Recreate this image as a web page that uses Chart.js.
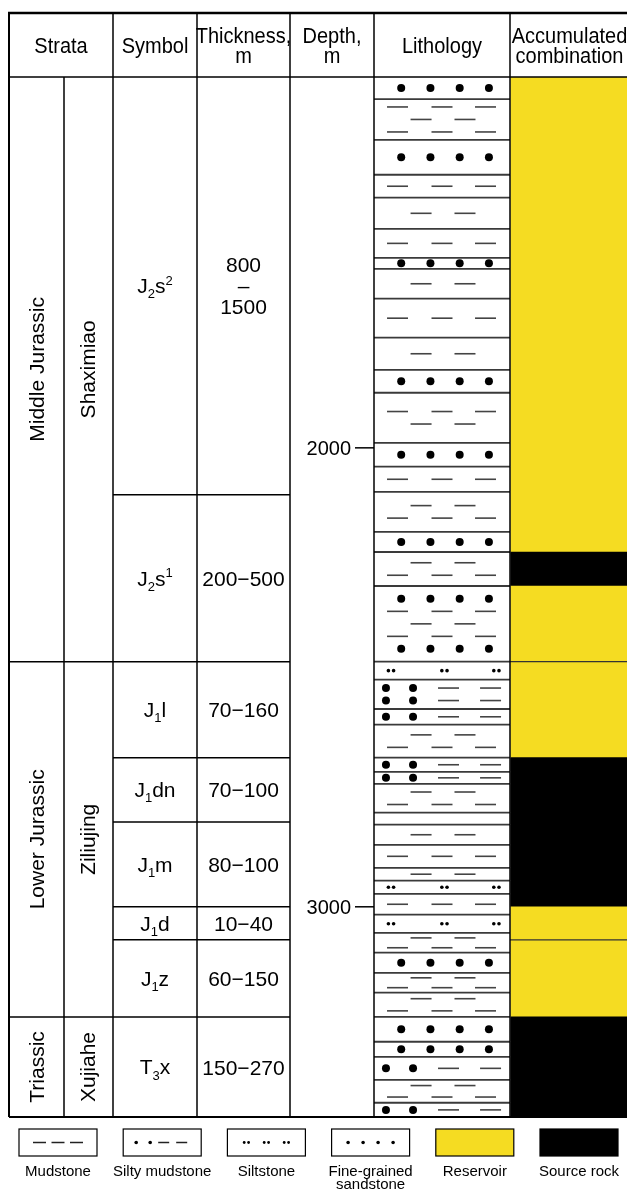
<!DOCTYPE html>
<html>
<head>
<meta charset="utf-8">
<script src="https://cdn.jsdelivr.net/npm/chart.js@4.4.1/dist/chart.umd.min.js"></script>
<style>
  html, body { margin: 0; padding: 0; background: #fff; }
  canvas { display: block; }
</style>
</head>
<body>
<canvas id="column" width="627" height="1191"></canvas>
<script>
// depth axis, m
const depthTop = 1192;
const depthBottom = 3458;
const depthTicks = [2000, 3000];

// strata
const eras = ['Middle Jurassic', 'Lower Jurassic', 'Triassic'];
const formations = ['Shaximiao', 'Ziliujing', 'Xujiahe'];
const formationTops = [1192, 2466, 3240];
const formationBottoms = [2466, 3240, 3458];

const members = ['J_2s^2', 'J_2s^1', 'J_1l', 'J_1dn', 'J_1m', 'J_1d', 'J_1z', 'T_3x'];
const memberThickness = ['800\n–\n1500', '200−500', '70−160', '70−100', '80−100', '10−40', '60−150', '150−270'];
const memberTops = [1192, 2102, 2466, 2675, 2815, 3000, 3072, 3240];
const memberBottoms = [2102, 2466, 2675, 2815, 3000, 3072, 3240, 3458];

// lithology layers, rows from top: D = fine-grained sandstone, 3/2 = mudstone,
// S = silty mudstone, T = siltstone
const lithTops = [1192, 1240, 1329, 1405, 1455, 1523, 1586, 1610, 1675, 1760,
  1830, 1880, 1989, 2041, 2096, 2183, 2227, 2301, 2466, 2505,
  2569, 2603, 2675, 2706, 2732, 2795, 2821, 2865, 2915, 2943,
  2972, 3017, 3057, 3100, 3144, 3187, 3240, 3294, 3327, 3377, 3427];
const lithRows = ['D', '323', 'D', '3', '2', '3', 'D', '2', '3', '2',
  'D', '32', 'D', '3', '23', 'D', '23', 'D323D', 'T', 'SS',
  'S', '23', 'S', 'S', '23', '', '2', '3', '2', 'T',
  '3', 'T', '23', 'D', '23', '23', 'D', 'D', 'S', '23', 'S'];
const lithBottoms = lithTops.map((t, i) => i < lithTops.length - 1 ? lithTops[i + 1] : depthBottom);

// accumulated combination
const accTops = [1192, 2227, 2301, 2466, 2675, 3000, 3072, 3240];
const accBottoms = [2227, 2301, 2466, 2675, 3000, 3072, 3240, 3458];
const accKinds = ['Reservoir', 'Source rock', 'Reservoir', 'Reservoir', 'Source rock', 'Reservoir', 'Reservoir', 'Source rock'];

const headers = ['Strata', 'Symbol', 'Thickness,\nm', 'Depth,\nm', 'Lithology', 'Accumulated\ncombination'];
const legendLabels = ['Mudstone', 'Silty mudstone', 'Siltstone', 'Fine-grained\nsandstone', 'Reservoir', 'Source rock'];

// layout (x units = px from the table's left edge)
const COL = { strata: 0, formation: 55, symbol: 104, thick: 188, depth: 281, lith: 365, acc: 501, end: 618 };
const FONT = '"Liberation Sans", Arial, sans-serif';
const YELLOW = '#f5dc22';
const kindColor = k => k === 'Reservoir' ? YELLOW : '#000';

function hline(ctx, x1, x2, y, color, w) {
  ctx.strokeStyle = color; ctx.lineWidth = w;
  ctx.beginPath(); ctx.moveTo(x1, y); ctx.lineTo(x2, y); ctx.stroke();
}
function vline(ctx, x, y1, y2, color, w) {
  ctx.strokeStyle = color; ctx.lineWidth = w;
  ctx.beginPath(); ctx.moveTo(x, y1); ctx.lineTo(x, y2); ctx.stroke();
}
function dot(ctx, x, y, r) {
  ctx.beginPath(); ctx.arc(x, y, r, 0, Math.PI * 2); ctx.fill();
}
function dash(ctx, cx, y, len) {
  hline(ctx, cx - len / 2, cx + len / 2, y, '#444', 1.6);
}

// one pattern row inside the lithology column
function drawRow(ctx, code, L, W, y) {
  ctx.fillStyle = '#000';
  if (code === 'D') {
    [0.2, 0.415, 0.63, 0.845].forEach(f => dot(ctx, L + W * f, y, 4));
  } else if (code === '3') {
    [0.173, 0.5, 0.82].forEach(f => dash(ctx, L + W * f, y, 21));
  } else if (code === '2') {
    [0.346, 0.669].forEach(f => dash(ctx, L + W * f, y, 21));
  } else if (code === 'S') {
    [0.088, 0.287].forEach(f => dot(ctx, L + W * f, y, 4));
    [0.548, 0.857].forEach(f => dash(ctx, L + W * f, y, 21));
  } else if (code === 'T') {
    [0.125, 0.518, 0.9].forEach(f => {
      dot(ctx, L + W * f - 2.6, y, 1.8);
      dot(ctx, L + W * f + 2.6, y, 1.8);
    });
  }
}

function richText(ctx, label, cx, baseY, size) {
  const parts = [];
  for (let i = 0; i < label.length; i++) {
    const c = label[i];
    if ((c === '_' || c === '^') && i + 1 < label.length) { parts.push({ t: label[i + 1], k: c }); i++; }
    else parts.push({ t: c, k: '' });
  }
  const small = Math.round(size * 0.62);
  const setFont = p => { ctx.font = `${p.k ? small : size}px ${FONT}`; };
  let total = 0;
  parts.forEach(p => { setFont(p); total += ctx.measureText(p.t).width; });
  let x = cx - total / 2;
  ctx.textAlign = 'left';
  ctx.textBaseline = 'alphabetic';
  parts.forEach(p => {
    setFont(p);
    const dy = p.k === '_' ? size * 0.24 : p.k === '^' ? -size * 0.4 : 0;
    ctx.fillText(p.t, x, baseY + dy);
    x += ctx.measureText(p.t).width;
  });
}

// centred multi-line text; stretchY > 1 makes the glyphs taller
function multiText(ctx, str, cx, cy, size, lineH, stretchY = 1) {
  const lines = str.split('\n');
  ctx.font = `${size}px ${FONT}`;
  ctx.textAlign = 'center';
  ctx.textBaseline = 'alphabetic';
  lines.forEach((ln, k) => {
    const by = cy + size * 0.36 * stretchY + (k - (lines.length - 1) / 2) * lineH;
    ctx.save();
    ctx.translate(cx, by);
    ctx.scale(1, stretchY);
    ctx.fillText(ln, 0, 0);
    ctx.restore();
  });
}

const tablePlugin = {
  id: 'stratTable',
  afterDatasetsDraw(chart) {
    const { ctx, chartArea: area } = chart;
    const xs = chart.scales.x, ys = chart.scales.y;
    const X = v => xs.getPixelForValue(v);
    const Y = v => ys.getPixelForValue(v);
    const headTop = 13;
    const bottom = Y(depthBottom);
    ctx.save();

    // lithology patterns and layer lines
    const L = X(COL.lith), W = X(COL.acc) - L;
    lithTops.forEach((t, i) => {
      const top = Y(t), bot = Y(lithBottoms[i]);
      const rows = lithRows[i];
      const n = rows.length;
      const gap = Math.min(12.5, (bot - top) / Math.max(n, 1));
      rows.split('').forEach((code, k) => {
        drawRow(ctx, code, L, W, (top + bot) / 2 + (k - (n - 1) / 2) * gap);
      });
      if (i > 0) hline(ctx, L, L + W, top, '#3a3a3a', 1.8);
    });

    // accumulated combination: thin line where two reservoir blocks meet
    accTops.forEach((t, i) => {
      if (i > 0 && accKinds[i] === accKinds[i - 1]) hline(ctx, X(COL.acc), X(COL.end), Y(t), '#333', 1.2);
    });

    // grid
    [COL.strata, COL.symbol, COL.thick, COL.depth, COL.lith, COL.acc].forEach(c => {
      vline(ctx, X(c), headTop, bottom, '#000', c === COL.strata ? 2 : 1.5);
    });
    vline(ctx, X(COL.formation), area.top, bottom, '#000', 1.5);
    hline(ctx, X(COL.strata) - 1, X(COL.end), headTop, '#000', 2.5);
    hline(ctx, X(COL.strata), X(COL.end), area.top, '#000', 1.5);
    hline(ctx, X(COL.strata), X(COL.end), bottom, '#000', 2);
    formationTops.forEach((t, i) => {
      if (i > 0) hline(ctx, X(COL.strata), X(COL.symbol), Y(t), '#000', 1.5);
    });
    memberTops.forEach((t, i) => {
      if (i > 0) hline(ctx, X(COL.symbol), X(COL.depth), Y(t), '#000', 1.5);
    });

    // depth ticks
    ctx.fillStyle = '#000';
    depthTicks.forEach(d => {
      const y = Y(d);
      hline(ctx, X(COL.lith) - 19, X(COL.lith), y, '#000', 1.5);
      ctx.font = `20px ${FONT}`;
      ctx.textAlign = 'right';
      ctx.textBaseline = 'alphabetic';
      ctx.fillText(String(d), X(COL.lith) - 23, y + 7);
    });

    // rotated strata names
    const rotated = (str, cx, cy) => {
      ctx.save();
      ctx.translate(cx, cy);
      ctx.rotate(-Math.PI / 2);
      ctx.font = `21px ${FONT}`;
      ctx.textAlign = 'center';
      ctx.textBaseline = 'middle';
      ctx.fillText(str, 0, 0);
      ctx.restore();
    };
    eras.forEach((e, i) => {
      const cy = (Y(formationTops[i]) + Y(formationBottoms[i])) / 2;
      rotated(e, (X(COL.strata) + X(COL.formation)) / 2 + 1.5, cy);
      rotated(formations[i], (X(COL.formation) + X(COL.symbol)) / 2 + 0.5, cy);
    });

    // members and thickness
    members.forEach((m, i) => {
      const cy = (Y(memberTops[i]) + Y(memberBottoms[i])) / 2;
      richText(ctx, m, (X(COL.symbol) + X(COL.thick)) / 2, cy + 7.5, 21);
      multiText(ctx, memberThickness[i], (X(COL.thick) + X(COL.depth)) / 2, cy, 21, 21);
    });

    // header
    const headCells = [[COL.strata, COL.symbol], [COL.symbol, COL.thick], [COL.thick, COL.depth],
      [COL.depth, COL.lith], [COL.lith, COL.acc], [COL.acc, COL.end]];
    headers.forEach((h, i) => {
      const cx = (X(headCells[i][0]) + X(headCells[i][1])) / 2 + (i === 5 ? 1 : 0);
      multiText(ctx, h, cx, (headTop + area.top) / 2, 20, 20, 1.08);
    });

    // legend
    const boxW = 78, boxH = 27, boxTop = bottom + 12, step = 104.2;
    legendLabels.forEach((lab, i) => {
      const bx = X(COL.strata) + 10 + i * step;
      ctx.fillStyle = i === 4 ? YELLOW : i === 5 ? '#000' : '#fff';
      ctx.fillRect(bx, boxTop, boxW, boxH);
      ctx.strokeStyle = '#000'; ctx.lineWidth = 1.2;
      ctx.strokeRect(bx, boxTop, boxW, boxH);
      const cy = boxTop + boxH / 2;
      ctx.fillStyle = '#000';
      if (i === 0) {
        [20.5, 39, 57.5].forEach(c => hline(ctx, bx + c - 6.5, bx + c + 6.5, cy, '#222', 1.5));
      } else if (i === 1) {
        [13, 27].forEach(c => dot(ctx, bx + c, cy, 1.8));
        [40.5, 58.5].forEach(c => hline(ctx, bx + c - 5.5, bx + c + 5.5, cy, '#222', 1.5));
      } else if (i === 2) {
        [19, 39, 59].forEach(c => { dot(ctx, bx + c - 2.2, cy, 1.4); dot(ctx, bx + c + 2.2, cy, 1.4); });
      } else if (i === 3) {
        [16.5, 31.5, 46.5, 61.5].forEach(c => dot(ctx, bx + c, cy, 1.8));
      }
      ctx.fillStyle = '#000';
      ctx.font = `15px ${FONT}`;
      ctx.textAlign = 'center';
      ctx.textBaseline = 'alphabetic';
      lab.split('\n').forEach((ln, k) => ctx.fillText(ln, bx + boxW / 2, boxTop + 47 + k * 13));
    });

    ctx.restore();
  }
};

Chart.defaults.font.family = FONT;

new Chart(document.getElementById('column'), {
  type: 'bar',
  data: {
    datasets: [
      {
        label: 'Lithology',
        stack: 'column',
        data: lithTops.map((t, i) => ({ x: (COL.lith + COL.acc) / 2, y: [t, lithBottoms[i]] })),
        backgroundColor: '#fff',
        borderWidth: 0,
        barThickness: 136
      },
      {
        label: 'Accumulated combination',
        stack: 'column',
        data: accTops.map((t, i) => ({ x: (COL.acc + COL.end) / 2, y: [t, accBottoms[i]] })),
        backgroundColor: accKinds.map(kindColor),
        borderWidth: 0,
        barThickness: 117
      }
    ]
  },
  options: {
    responsive: false,
    animation: false,
    events: [],
    layout: { padding: { left: 9, right: 0, top: 77, bottom: 74 } },
    plugins: { legend: { display: false }, tooltip: { enabled: false } },
    scales: {
      x: { type: 'linear', min: 0, max: 618, display: false, offset: false },
      y: { type: 'linear', reverse: true, stacked: false, min: depthTop, max: depthBottom, beginAtZero: false, display: false }
    }
  },
  plugins: [tablePlugin]
});
</script>
</body>
</html>
